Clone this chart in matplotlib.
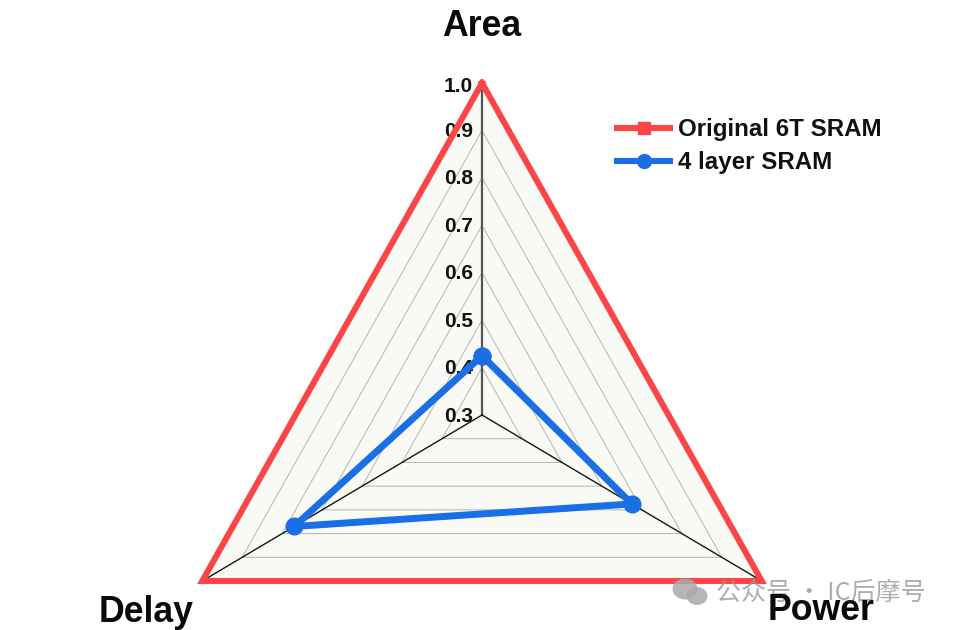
import numpy as np
import matplotlib
matplotlib.use("Agg")
import matplotlib.pyplot as plt
from matplotlib import font_manager as fm
from matplotlib.patches import Ellipse

axes_names = ["Area", "Power", "Delay"]
tick_values = [0.3, 0.4, 0.5, 0.6, 0.7, 0.8, 0.9, 1.0]
original = [1.0, 1.0, 1.0]
four_layer = [0.425, 0.675, 0.77]
series_names = ["Original 6T SRAM", "4 layer SRAM"]

R_MIN, R_MAX = 0.3, 1.0
angles = np.deg2rad([90, -30, 210])

def xy(values):
    r = (np.asarray(values, float) - R_MIN) / (R_MAX - R_MIN)
    return r * np.cos(angles), r * np.sin(angles)

def closed(a):
    return np.r_[a, a[:1]]

# the wide bold face, not the Narrow one that family matching can pick
bold_path = next((f for f in fm.findSystemFonts() if f.endswith("LiberationSans-Bold.ttf")), None)

def bold(size):
    if bold_path:
        return fm.FontProperties(fname=bold_path, size=size)
    return fm.FontProperties(family="DejaVu Sans", weight="bold", size=size)

fig = plt.figure(figsize=(9.58, 6.30), dpi=100)
ax = fig.add_axes([0, 0, 1, 1])
# pixel scale of the reference: centre at (482, 415), 323 px/unit in x, 332 px/unit in y
ax.set_xlim(-482 / 323, (958 - 482) / 323)
ax.set_ylim(-(630 - 415) / 332, 415 / 332)
ax.axis("off")

# background fill and grid
ox, oy = xy(original)
ax.fill(ox, oy, color="#f9faf5", zorder=1, lw=0)
for t in tick_values[1:-1]:
    gx, gy = xy([t] * 3)
    ax.plot(closed(gx), closed(gy), color="#b4b4b0", lw=0.7, zorder=2)

# spokes
ax.plot([0, ox[0]], [0, oy[0]], color="#555555", lw=1.6, zorder=3)
for i in (1, 2):
    ax.plot([0, ox[i]], [0, oy[i]], color="#151515", lw=1.0, zorder=3)

# radial tick labels
for t in tick_values:
    r = (t - R_MIN) / (R_MAX - R_MIN)
    ax.annotate(f"{t:.1f}", (0, r), xytext=(-9, -1 if t < 1 else -4), textcoords="offset pixels",
                ha="right", va="center", fontproperties=bold(15), color="#111111", zorder=4)

# series
ax.plot(closed(ox), closed(oy), color="#fa4646", lw=4.4, zorder=5, solid_joinstyle="miter")
bx, by = xy(four_layer)
ax.plot(closed(bx), closed(by), color="#1a6fe6", lw=5.0, marker="o", ms=12, zorder=6,
        solid_joinstyle="round")

# legend (handles with markers)
h1, = ax.plot([], [], color="#fa4646", lw=4.4, marker="s", ms=9, label=series_names[0])
h2, = ax.plot([], [], color="#1a6fe6", lw=4.4, marker="o", ms=10, label=series_names[1])
leg = ax.legend(handles=[h1, h2], loc="upper left", bbox_to_anchor=(617 / 958, 1 - 118 / 630),
                frameon=False, prop=bold(17.4), handlelength=2.2, handletextpad=0.33, borderpad=0,
                borderaxespad=0, labelspacing=0.42)
for t in leg.get_texts():
    t.set_color("#111111")

# axis names
ax.text(482 / 958, 1 - 23 / 630, axes_names[0], transform=ax.transAxes, ha="center", va="center_baseline",
        fontproperties=bold(25.7), color="#0a0a0a", zorder=8)
ax.text(821 / 958, 1 - 606 / 630, axes_names[1], transform=ax.transAxes, ha="center", va="center_baseline",
        fontproperties=bold(25.7), color="#0a0a0a", zorder=8)
ax.text(146 / 958, 1 - 608 / 630, axes_names[2], transform=ax.transAxes, ha="center", va="center_baseline",
        fontproperties=bold(25.7), color="#0a0a0a", zorder=8)

# watermark
ax.text(716 / 958, 1 - 593 / 630, "公众号 · IC后摩号", transform=ax.transAxes, ha="left", va="center",
        fontsize=18, color="#999999", alpha=0.8, zorder=7,
        family=["Noto Sans CJK SC", "DejaVu Sans"])
for cx, cy, w, h in [(685, 589, 25, 21), (697, 596, 21, 18)]:
    ax.add_patch(Ellipse((cx / 958, 1 - cy / 630), w / 958, h / 630, transform=ax.transAxes,
                         color="#aaaaaa", alpha=0.85, lw=0, zorder=7))

fig.savefig("out.png", dpi=100)
